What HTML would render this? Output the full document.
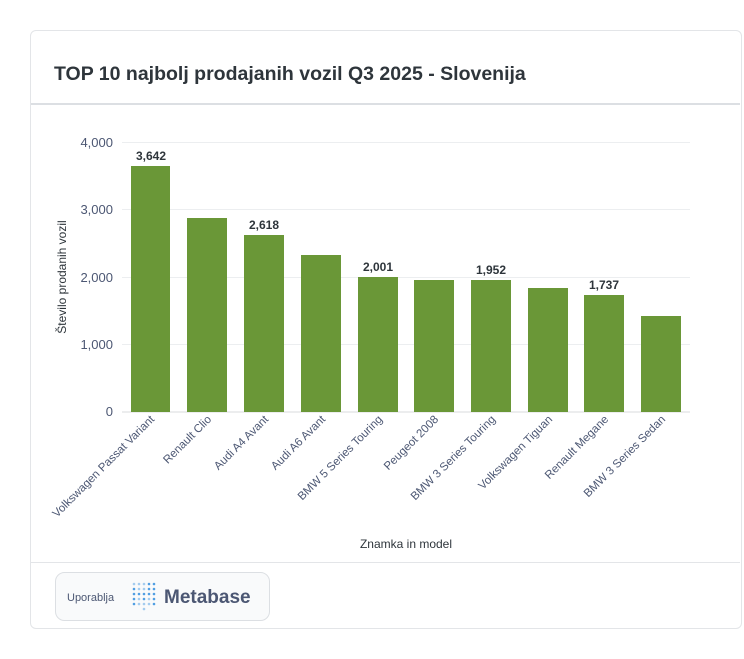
<!DOCTYPE html>
<html><head><meta charset="utf-8"><style>
body{margin:0;background:#fff;width:744px;height:659px;overflow:hidden;font-family:"Liberation Sans",sans-serif}
.card{position:absolute;left:30px;top:30px;width:710px;height:597px;border:1px solid #e3e5e8;border-radius:6px;background:#fff}
</style></head><body>
<div class="card"></div>
<div style="position:absolute;left:54px;top:63px;font-size:19.5px;font-weight:bold;color:#2e353b">TOP 10 najbolj prodajanih vozil Q3 2025 - Slovenija</div>
<div style="position:absolute;left:31px;top:103px;width:709px;height:2px;background:#dcdfe3"></div>
<div style="position:absolute;left:31px;top:562px;width:709px;height:1px;background:#e3e5e8"></div>
<svg width="744" height="659" style="position:absolute;left:0;top:0" font-family="Liberation Sans, sans-serif">
<g stroke="#eceef0" stroke-width="1">
<line x1="122" x2="690" y1="142.5" y2="142.5"/><line x1="122" x2="690" y1="209.5" y2="209.5"/><line x1="122" x2="690" y1="277.5" y2="277.5"/><line x1="122" x2="690" y1="344.5" y2="344.5"/>
</g>
<line x1="122" x2="690" y1="412" y2="412" stroke="#d8dbde"/>
<g font-size="13" fill="#4c5773" text-anchor="end">
<text x="113" y="147">4,000</text><text x="113" y="214">3,000</text><text x="113" y="282">2,000</text><text x="113" y="349">1,000</text><text x="113" y="416">0</text>
</g>
<text transform="translate(66,277) rotate(-90)" text-anchor="middle" font-size="12" fill="#2e353b">Število prodanih vozil</text>
<g fill="#6a9737">
<rect x="131" y="166" width="39" height="246"/>
<rect x="187" y="218" width="40" height="194"/>
<rect x="244" y="235" width="40" height="177"/>
<rect x="301" y="255" width="40" height="157"/>
<rect x="358" y="277" width="40" height="135"/>
<rect x="414" y="280" width="40" height="132"/>
<rect x="471" y="280" width="40" height="132"/>
<rect x="528" y="288" width="40" height="124"/>
<rect x="584" y="295" width="40" height="117"/>
<rect x="641" y="316" width="40" height="96"/>
</g>
<g font-size="12" font-weight="bold" fill="#2e353b" text-anchor="middle">
<text x="151" y="160">3,642</text><text x="264" y="229">2,618</text><text x="378" y="271">2,001</text><text x="491" y="274">1,952</text><text x="604" y="289">1,737</text>
</g>
<g font-size="11.5" fill="#4c5773" text-anchor="end">
<text transform="translate(155,420) rotate(-45)">Volkswagen Passat Variant</text>
<text transform="translate(212,420) rotate(-45)">Renault Clio</text>
<text transform="translate(269,420) rotate(-45)">Audi A4 Avant</text>
<text transform="translate(326,420) rotate(-45)">Audi A6 Avant</text>
<text transform="translate(383,420) rotate(-45)">BMW 5 Series Touring</text>
<text transform="translate(439,420) rotate(-45)">Peugeot 2008</text>
<text transform="translate(496,420) rotate(-45)">BMW 3 Series Touring</text>
<text transform="translate(553,420) rotate(-45)">Volkswagen Tiguan</text>
<text transform="translate(609,420) rotate(-45)">Renault Megane</text>
<text transform="translate(666,420) rotate(-45)">BMW 3 Series Sedan</text>
</g>
<rect x="0" y="420" width="46" height="120" fill="#fff"/>
<line x1="30.5" x2="30.5" y1="105" y2="562" stroke="#e3e5e8"/>
<text x="406" y="548" text-anchor="middle" font-size="12" fill="#2e353b">Znamka in model</text>
<rect x="55.5" y="572.5" width="214" height="48" rx="9" fill="#f9fafb" stroke="#dcdfe3"/>
<text x="67" y="601" font-size="11" fill="#4c5773">Uporablja</text>
<g fill="#509ee3">
<circle cx="134" cy="584" r="1.3" opacity=".5"/><circle cx="139" cy="584" r="1.3" opacity=".5"/><circle cx="144" cy="584" r="1.3" opacity=".5"/><circle cx="149" cy="584" r="1.3"/><circle cx="154" cy="584" r="1.3"/>
<circle cx="134" cy="589" r="1.3"/><circle cx="139" cy="589" r="1.3" opacity=".5"/><circle cx="144" cy="589" r="1.3" opacity=".5"/><circle cx="149" cy="589" r="1.3"/><circle cx="154" cy="589" r="1.3"/>
<circle cx="134" cy="594" r="1.3"/><circle cx="139" cy="594" r="1.3"/><circle cx="144" cy="594" r="1.3"/><circle cx="149" cy="594" r="1.3"/><circle cx="154" cy="594" r="1.3"/>
<circle cx="134" cy="599" r="1.3"/><circle cx="139" cy="599" r="1.3" opacity=".5"/><circle cx="144" cy="599" r="1.3"/><circle cx="149" cy="599" r="1.3" opacity=".5"/><circle cx="154" cy="599" r="1.3"/>
<circle cx="134" cy="604" r="1.3"/><circle cx="139" cy="604" r="1.3" opacity=".5"/><circle cx="144" cy="604" r="1.3" opacity=".5"/><circle cx="149" cy="604" r="1.3" opacity=".5"/><circle cx="154" cy="604" r="1.3"/>
<circle cx="144" cy="609" r="1.3" opacity=".5"/>
</g>
<text x="164" y="603" font-size="19" font-weight="bold" fill="#4c5773">Metabase</text>
</svg>
</body></html>
